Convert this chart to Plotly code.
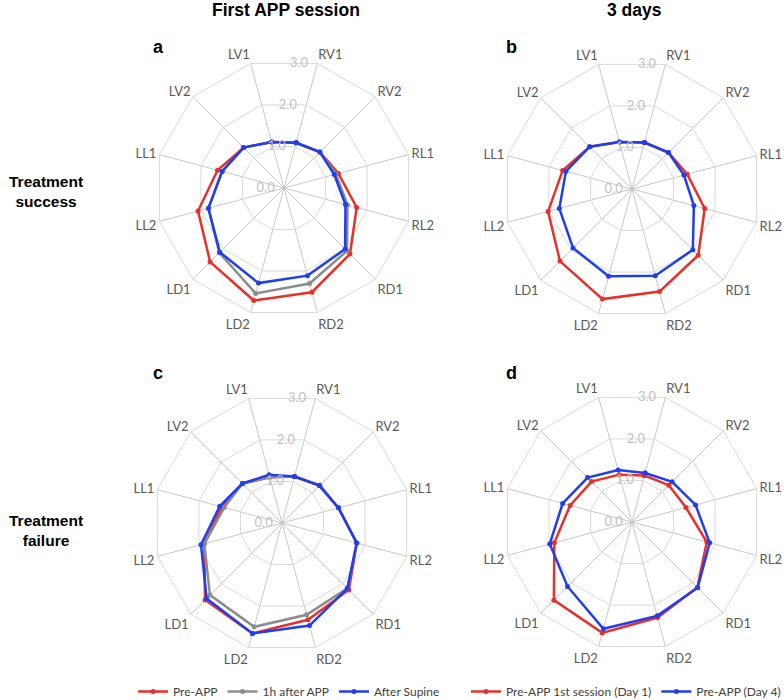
import plotly.graph_objects as go

cats = ["RV1", "RV2", "RL1", "RL2", "RD1", "RD2", "LD2", "LD1", "LL2", "LL1", "LV2", "LV1"]

# Panel a: Treatment success, first APP session
a_pre = [1.09, 1.18, 1.31, 1.75, 2.17, 2.51, 2.71, 2.43, 2.07, 1.60, 1.33, 1.11]
a_1h = [1.09, 1.18, 1.25, 1.53, 2.07, 2.30, 2.54, 2.13, 1.82, 1.49, 1.33, 1.11]
a_sup = [1.09, 1.18, 1.21, 1.48, 2.01, 2.11, 2.29, 2.11, 1.82, 1.49, 1.33, 1.11]
# Panel b: Treatment success, 3 days
b_d1 = [1.12, 1.20, 1.33, 1.75, 2.18, 2.47, 2.65, 2.37, 2.02, 1.67, 1.39, 1.13]
b_d4 = [1.12, 1.20, 1.25, 1.49, 2.00, 2.09, 2.10, 1.94, 1.75, 1.59, 1.39, 1.13]
# Panel c: Treatment failure, first APP session
c_pre = [1.12, 1.23, 1.36, 1.80, 2.20, 2.33, 2.66, 2.53, 1.87, 1.45, 1.30, 1.10]
c_1h = [1.12, 1.25, 1.36, 1.80, 2.15, 2.21, 2.50, 2.37, 1.87, 1.39, 1.30, 1.10]
c_sup = [1.12, 1.23, 1.36, 1.80, 2.15, 2.47, 2.66, 2.48, 1.95, 1.50, 1.30, 1.16]
# Panel d: Treatment failure, 3 days
d_d1 = [1.12, 1.21, 1.30, 1.80, 2.15, 2.30, 2.67, 2.57, 1.87, 1.49, 1.33, 1.14]
d_d4 = [1.18, 1.32, 1.53, 1.87, 2.16, 2.26, 2.57, 2.12, 1.98, 1.67, 1.46, 1.25]

RED = "#e8302a"
GRAY = "#8c8c8c"
BLUE = "#1f3ef0"

fig = go.Figure()


def closed(v):
    return list(v) + [v[0]]


def add(vals, name, color, polar, legend, show):
    fig.add_trace(go.Scatterpolar(
        r=closed(vals), theta=closed(cats), mode="lines+markers",
        name=name, line=dict(color=color, width=2.5),
        marker=dict(color=color, size=5),
        subplot=polar, legend=legend, showlegend=show))


add(a_pre, "Pre-APP", RED, "polar", "legend", True)
add(a_1h, "1h after APP", GRAY, "polar", "legend", True)
add(a_sup, "After Supine", BLUE, "polar", "legend", True)
add(b_d1, "Pre-APP 1st session (Day 1)", RED, "polar2", "legend2", False)
add(b_d4, "Pre-APP (Day 4)", BLUE, "polar2", "legend2", False)
add(c_pre, "Pre-APP", RED, "polar3", "legend", False)
add(c_1h, "1h after APP", GRAY, "polar3", "legend", False)
add(c_sup, "After Supine", BLUE, "polar3", "legend", False)
add(d_d1, "Pre-APP 1st session (Day 1)", RED, "polar4", "legend2", True)
add(d_d4, "Pre-APP (Day 4)", BLUE, "polar4", "legend2", True)

W, H = 784, 700
R = 129


def dom(cx, cy):
    return dict(x=[(cx - R) / W, (cx + R) / W], y=[1 - (cy + R) / H, 1 - (cy - R) / H])


def polar_cfg(cx, cy):
    return dict(
        domain=dom(cx, cy),
        bgcolor="white",
        gridshape="linear",
        radialaxis=dict(range=[0, 3], dtick=1, tickformat=".1f", angle=75, tickangle=75,
                        side="counterclockwise", showline=False, ticks="",
                        gridcolor="#d9d9d9", gridwidth=1,
                        tickfont=dict(family="Lato", size=13, color="#bfbfbf")),
        angularaxis=dict(rotation=75, direction="clockwise", categoryarray=cats,
                         categoryorder="array",
                         gridcolor="#c8c8c8", gridwidth=1, showline=True,
                         linecolor="#d9d9d9", linewidth=1, ticks="",
                         tickfont=dict(family="Lato", size=13, color="#595959")),
    )


title_font = dict(family="Liberation Sans", size=17.5, color="black")
lab_font = dict(family="Liberation Sans", size=15.5, color="black")
letter_font = dict(family="Liberation Sans", size=18, color="black")

ann = [
    dict(text="<b>First APP session</b>", x=286 / W, y=1 - 10 / H, font=title_font),
    dict(text="<b>3 days</b>", x=634 / W, y=1 - 10 / H, font=title_font),
    dict(text="<b>Treatment<br>success</b>", x=46 / W, y=1 - 192 / H, font=lab_font),
    dict(text="<b>Treatment<br>failure</b>", x=46 / W, y=1 - 530 / H, font=lab_font),
    dict(text="<b>a</b>", x=158 / W, y=1 - 47 / H, font=letter_font),
    dict(text="<b>b</b>", x=512 / W, y=1 - 47 / H, font=letter_font),
    dict(text="<b>c</b>", x=158 / W, y=1 - 373 / H, font=letter_font),
    dict(text="<b>d</b>", x=512 / W, y=1 - 373 / H, font=letter_font),
]
for a in ann:
    a.update(xref="paper", yref="paper", showarrow=False, xanchor="center", yanchor="middle")

leg_font = dict(family="Lato", size=12, color="#404040")
fig.update_layout(
    width=W, height=H,
    margin=dict(l=0, r=0, t=0, b=0, autoexpand=False),
    paper_bgcolor="white", plot_bgcolor="white",
    polar=polar_cfg(284, 188),
    polar2=polar_cfg(632, 189),
    polar3=polar_cfg(282, 523),
    polar4=polar_cfg(632, 522),
    annotations=ann,
    legend=dict(orientation="h", x=133 / W, y=-6 / H, xanchor="left", yanchor="bottom",
                font=leg_font, itemwidth=30, bgcolor="rgba(0,0,0,0)", tracegroupgap=0),
    legend2=dict(orientation="h", x=466 / W, y=-6 / H, xanchor="left", yanchor="bottom",
                 font=leg_font, itemwidth=30, bgcolor="rgba(0,0,0,0)"),
)

fig.write_html("out.html", config={"displayModeBar": False},
               post_script="document.body.style.margin='0px';")
